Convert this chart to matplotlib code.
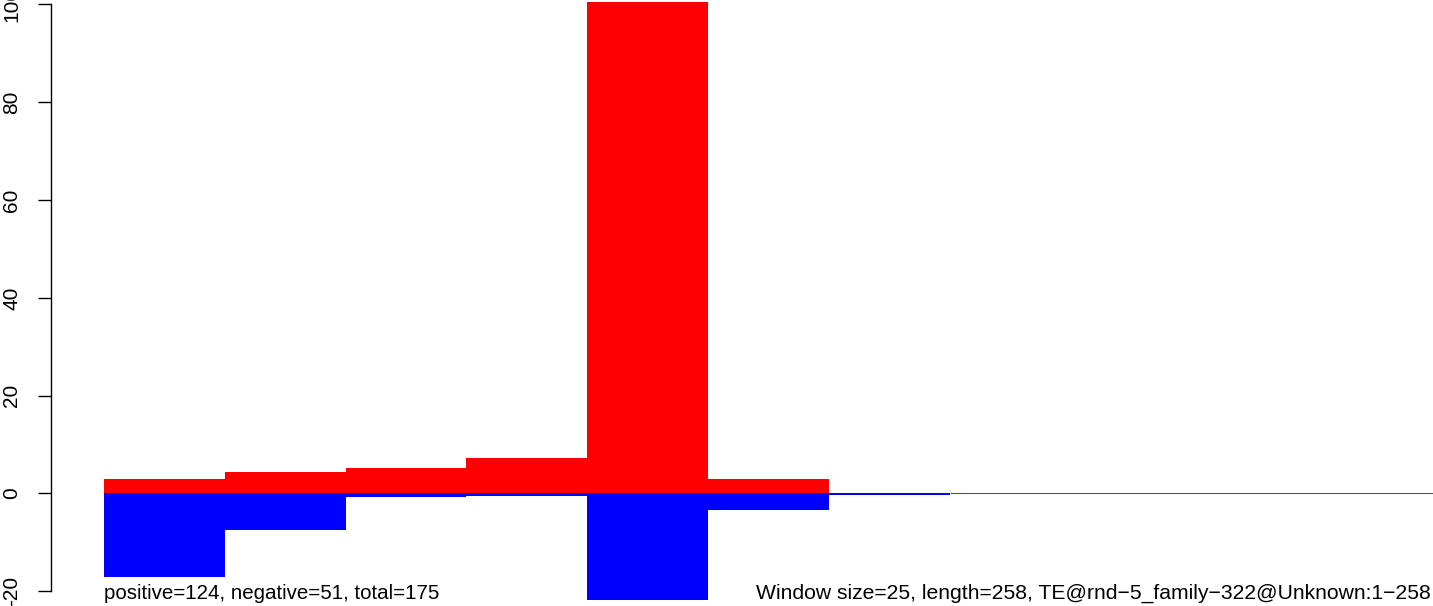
import matplotlib
matplotlib.use("Agg")
import matplotlib.pyplot as plt
import numpy as np

plt.rcParams['font.family'] = ['Liberation Sans', 'DejaVu Sans']

# counts per 25 bp window (11 windows over length 258)
windows = np.arange(11)
positive = [2.9, 4.35, 5.2, 7.2, 102, 2.9, 0, 0, 0, 0, 0]
negative = [-17.0, -7.5, -0.7, -0.5, -22, -3.4, -0.25, 0, 0, 0, 0]
yticks = [-20, 0, 20, 40, 60, 80, 100]
left_text = "positive=124, negative=51, total=175"
right_text = "Window size=25, length=258, TE@rnd\u22125_family\u2212322@Unknown:1\u2212258"

W, H = 1433, 606
fig = plt.figure(figsize=(W / 100, H / 100), dpi=100)
# axes from the y axis line (x=51px) to the right edge, y from 2px to 600px
ax = fig.add_axes([51 / W, 1 - 600 / H, 1 - 51 / W, 598 / H])

# zero line under the empty windows
ax.hlines(0, windows[7], windows[-1] + 1, color='#555555', linewidth=0.8, zorder=1)
ax.bar(windows, positive, width=1, align='edge', color='#ff0000', linewidth=0, zorder=2)
ax.bar(windows, negative, width=1, align='edge', color='#0000ff', linewidth=0, zorder=2)

ax.set_xlim(-(104 - 51) / 120.8, 11)
ax.set_ylim(-21.8, 100.5)

for s in ['top', 'right', 'bottom']:
    ax.spines[s].set_visible(False)
ax.spines['left'].set_bounds(-20, 100)
ax.spines['left'].set_linewidth(1)
ax.set_xticks([])
ax.set_yticks(yticks)
ax.set_yticklabels([str(t) for t in yticks], rotation=90, va='center', fontsize=15)
ax.tick_params(axis='y', length=9.4, width=1, pad=12)
for lab in ax.get_yticklabels():
    lab.set_clip_on(False)

fig.text(104 / W, 1 - 599 / H, left_text, ha='left', va='baseline', fontsize=14.8)
fig.text(1431 / W, 1 - 599 / H, right_text, ha='right', va='baseline', fontsize=15.2)

fig.savefig("out.png", dpi=100)
